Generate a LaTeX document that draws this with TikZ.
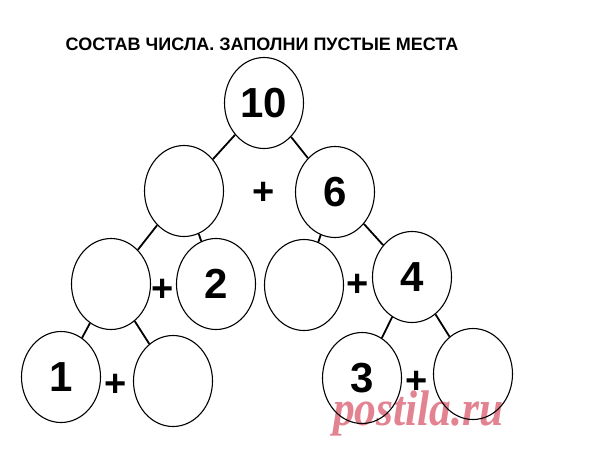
\documentclass[tikz,border=0pt]{standalone}
\usepackage{fontspec}
\setmainfont{Liberation Sans}
\newfontfamily\wmfont{Liberation Serif}
\usetikzlibrary{shapes.geometric}
\definecolor{wmpink}{HTML}{E07584}
\tikzset{
  bubble/.style={ellipse, draw=black, line width=1.1pt, minimum width=79pt, minimum height=91pt, inner sep=0pt, font=\fontsize{42}{42}\selectfont\bfseries},
  plus/.style={font=\fontsize{38}{38}\selectfont\bfseries, inner sep=0pt},
  link/.style={line width=1.8pt, black}
}
\begin{document}
\begin{tikzpicture}[x=1pt,y=-1pt]
\useasboundingbox[fill=white] (0,0) rectangle (604,453);
% watermark (behind the drawing)
\node[text=wmpink, opacity=0.9, font=\fontsize{50}{50}\selectfont\wmfont\bfseries\itshape, inner sep=0pt, anchor=base west, xscale=0.87] (wm) at (333,425) {postila.ru};
\node[font=\fontsize{18}{18}\selectfont\bfseries, inner sep=0pt, anchor=base] (title) at (262,50) {СОСТАВ ЧИСЛА. ЗАПОЛНИ ПУСТЫЕ МЕСТА};
% level 1
\node[bubble] (n10) at (264,103) {10};
% level 2
\node[bubble] (a) at (184,191) {};
\node[bubble] (n6) at (335,192) {6};
\node[plus] (p1) at (264,193) {+};
% level 3
\node[bubble] (b) at (111,284) {};
\node[bubble] (n2) at (216,284) {2};
\node[plus] (p2) at (163,290) {+};
\node[bubble] (c) at (304,285) {};
\node[bubble] (n4) at (412,277) {4};
\node[plus] (p3) at (358,285) {+};
% level 4
\node[bubble] (n1) at (61,377) {1};
\node[bubble] (d) at (173,381) {};
\node[plus] (p4) at (116,385) {+};
\node[bubble] (n3) at (362,378) {3};
\node[bubble] (e) at (473,374) {};
\node[plus] (p5) at (417,382) {+};
% connectors
\draw[link] (n10) -- (a);
\draw[link] (n10) -- (n6);
\draw[link] (a) -- (b);
\draw[link] (a) -- (n2);
\draw[link] (n6) -- (c);
\draw[link] (n6) -- (n4);
\draw[link] (b) -- (n1);
\draw[link] (b) -- (d);
\draw[link] (n4) -- (n3);
\draw[link] (n4) -- (e);
\end{tikzpicture}
\end{document}
